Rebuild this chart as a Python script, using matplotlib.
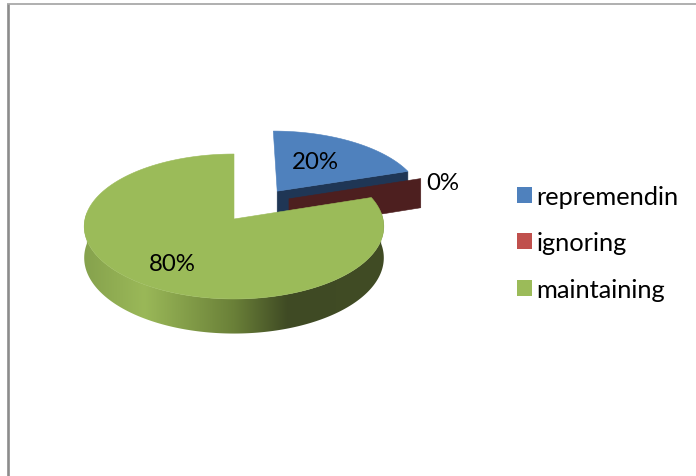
import numpy as np
import matplotlib
matplotlib.use("Agg")
import matplotlib.pyplot as plt
from matplotlib.patches import Polygon, Patch
from matplotlib.colors import LinearSegmentedColormap

categories = ["repremendin", "ignoring", "maintaining"]
values = [20, 0, 80]

top_colors = ["#4f81bd", "#4d1f1f", "#9bbb59"]
side_colors = ["#1f3655", "#4d1f1f", None]
legend_colors = ["#4f81bd", "#c0504d", "#9bbb59"]

CX, CY = 234.0, 220.0
R, A, K, H = 149.0, 71.7, 0.1034, 31.0
# exploded offset of each slice in the plane of the disc
offsets = [(0.302, 0.4045), (0.38, 0.29), (0.0, 0.0)]
label_xy = [(315, 163), (443, 184), (172, 265)]

plt.rcParams["font.family"] = ["Lato", "DejaVu Sans"]
FS = 17.3
LEG_FS = 18.3

fig = plt.figure(figsize=(6.96, 4.77), dpi=100)
ax = fig.add_axes([0, 0, 1, 1])
ax.set_xlim(0, 696)
ax.set_ylim(477, 0)
ax.axis("off")


def project(u, v, drop=False):
    u, v = np.asarray(u, float), np.asarray(v, float)
    w = 1 + K * v
    x = CX + R * u / w
    y = CY - A * v / w
    if drop:
        y = y + H / w
    return np.column_stack([x, y])


def rim(a0, a1, off, n=200):
    t = np.radians(np.linspace(a0, a1, n))
    return np.sin(t) + off[0], np.cos(t) + off[1]


# slice angles, clockwise from the top
edges = np.concatenate([[0], np.cumsum(values)]) * 3.6

# frame
ax.plot([7.5, 7.5], [477, 4.5], color="#8c8c8c", lw=1.9, solid_capstyle="butt", zorder=1)
ax.plot([6.5, 696], [5, 5], color="#9a9a9a", lw=1.1, solid_capstyle="butt", zorder=1)

# repremendin (exploded)
a0, a1 = edges[0], edges[1]
off = offsets[0]
u, v = rim(a0, a1, off)
ru = np.array([off[0], u[-1]])
rv = np.array([off[1], v[-1]])
ax.add_patch(Polygon(np.vstack([project(ru, rv), project(ru, rv, True)[::-1]]),
                     fc=side_colors[0], ec=side_colors[0], lw=0.4, zorder=2))
ax.add_patch(Polygon(np.vstack([project([off[0]], [off[1]]), project(u, v)]),
                     fc=top_colors[0], ec=top_colors[0], lw=0.4, zorder=3))

# ignoring: a zero-width slice only shows its wall
a = edges[2]
off = offsets[1]
ru = off[0] + np.array([0, np.sin(np.radians(a))])
rv = off[1] + np.array([0, np.cos(np.radians(a))])
ax.add_patch(Polygon(np.vstack([project(ru, rv), project(ru, rv, True)[::-1]]),
                     fc=side_colors[1], ec=side_colors[1], lw=0.4, zorder=4))

# maintaining: side with a horizontal shading
a0, a1 = edges[2], edges[3]
off = offsets[2]
u, v = rim(85, 275, off)
side = np.vstack([project(u, v), project(u, v, True)[::-1]])
clip = Polygon(side, fc="none", ec="none", zorder=5)
ax.add_patch(clip)
cmap = LinearSegmentedColormap.from_list(
    "side", [(0, "#86a24d"), (0.2, "#9ab858"), (0.5, "#6a8038"), (0.68, "#3f4a24"), (1, "#414c25")])
im = ax.imshow(np.linspace(0, 1, 512).reshape(1, -1), cmap=cmap, aspect="auto",
               extent=[side[:, 0].min(), side[:, 0].max(), side[:, 1].max(), side[:, 1].min()],
               zorder=5)
im.set_clip_path(clip)
ax.set_xlim(0, 696)
ax.set_ylim(477, 0)

u, v = rim(a0, a1, off)
ax.add_patch(Polygon(np.vstack([project([off[0]], [off[1]]), project(u, v)]),
                     fc=top_colors[2], ec=top_colors[2], lw=0.4, zorder=6))

# data labels
for val, (x, y) in zip(values, label_xy):
    ax.text(x, y, f"{val}%", fontsize=FS, color="black", ha="center", va="center", zorder=7)

# legend
handles = [Patch(fc=c, ec="none") for c in legend_colors]
size = 15 * 0.72 / LEG_FS
ax.legend(handles, categories, loc="upper left", bbox_to_anchor=(509 / 696, 1 - 178 / 477),
          frameon=False, fontsize=LEG_FS, handlelength=size, handleheight=size,
          handletextpad=0.18, labelspacing=0.93, borderaxespad=0, borderpad=0.3)

fig.savefig("out.png", dpi=100)
